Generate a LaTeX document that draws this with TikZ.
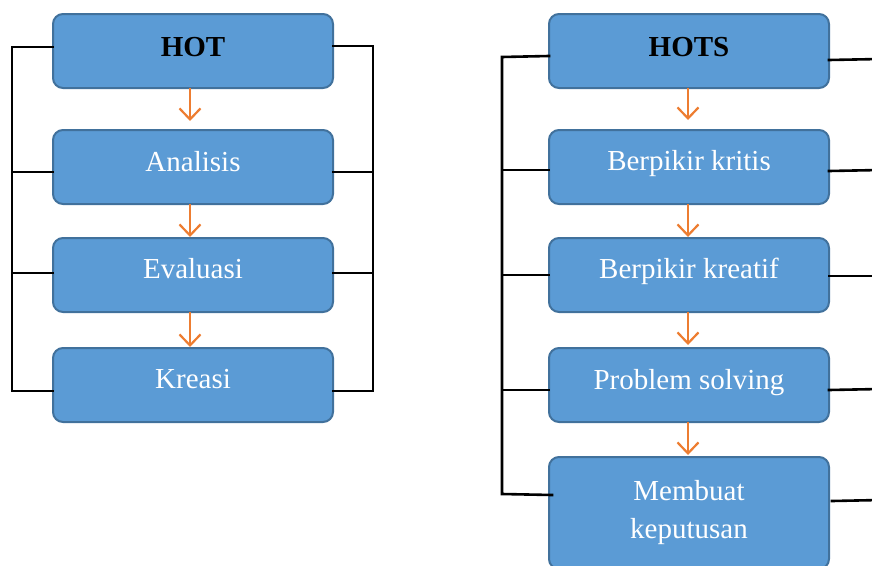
\documentclass[tikz,border=0pt]{standalone}
\usepackage{fontspec}
\setmainfont{Liberation Serif}
\usetikzlibrary{arrows.meta}
\definecolor{boxfill}{HTML}{5B9BD5}
\definecolor{boxline}{HTML}{41719C}
\definecolor{arr}{HTML}{ED7D31}
\tikzset{
  blockbox/.style={draw=boxline, fill=boxfill, line width=2pt, rounded corners=10pt,
    minimum width=280pt, inner sep=0pt, outer sep=0pt, anchor=north},
  txt/.style={anchor=base, inner sep=0pt, text=white, font=\fontsize{29}{38}\selectfont},
  ttl/.style={anchor=base, inner sep=0pt, text=black, font=\fontsize{29}{38}\selectfont\bfseries},
  flow/.style={draw=arr, line width=2.2pt, -{Straight Barb[length=11pt,width=21pt,line width=2.2pt]}},
  link/.style={draw=black, line width=2.6pt, line cap=rect}
}
\begin{document}
\begin{tikzpicture}[x=1pt,y=-1pt]
\useasboundingbox (0,0) rectangle (872,565);
\clip (0,0) rectangle (872,565);
% left column boxes
\node[blockbox, minimum height=74pt] (hot) at (193,14) {};
\node[blockbox, minimum height=74pt] (ana) at (193,130) {};
\node[blockbox, minimum height=74pt] (eva) at (193,238) {};
\node[blockbox, minimum height=74pt] (kre) at (193,348) {};
% right column boxes
\node[blockbox, minimum height=74pt] (hots) at (689,14) {};
\node[blockbox, minimum height=74pt] (kri) at (689,130) {};
\node[blockbox, minimum height=74pt] (kreat) at (689,238) {};
\node[blockbox, minimum height=74pt] (ps) at (689,348) {};
\node[blockbox, minimum height=112pt] (mk) at (689,457) {};
% texts
\node[ttl] (thot) at (193,56) {HOT};
\node[txt] (tana) at (193,171) {Analisis};
\node[txt] (teva) at (193,278) {Evaluasi};
\node[txt] (tkre) at (193,388) {Kreasi};
\node[ttl] (thots) at (689,56) {HOTS};
\node[txt] (tkri) at (689,170) {Berpikir kritis};
\node[txt] (tkreat) at (689,278) {Berpikir kreatif};
\node[txt] (tps) at (689,389) {Problem solving};
\node[txt] (tmk1) at (689,500) {Membuat};
\node[txt] (tmk2) at (689,538) {keputusan};
% flow arrows
\draw[flow, shorten >=9pt] ([xshift=-3pt]hot.south) -- ([xshift=-3pt]ana.north);
\draw[flow, shorten >=1pt] ([xshift=-3pt]ana.south) -- ([xshift=-3pt]eva.north);
\draw[flow, shorten >=1pt] ([xshift=-3pt]eva.south) -- ([xshift=-3pt]kre.north);
\draw[flow, shorten >=10pt] ([xshift=-1pt]hots.south) -- ([xshift=-1pt]kri.north);
\draw[flow, shorten >=1pt] ([xshift=-1pt]kri.south) -- ([xshift=-1pt]kreat.north);
\draw[flow, shorten >=3pt] ([xshift=-1pt]kreat.south) -- ([xshift=-1pt]ps.north);
\draw[flow, shorten >=2pt] ([xshift=-1pt]ps.south) -- ([xshift=-1pt]mk.north);
% left column brackets
\coordinate (la) at (12,47);
\coordinate (lb) at (12,172);
\coordinate (lc) at (12,273);
\coordinate (ld) at (12,391);
\draw[link] ([yshift=4pt]hot.west) -- (la) -- (ld) -- ([yshift=-6pt]kre.west);
\draw[link] (lb) -- ([yshift=-5pt]ana.west);
\draw[link] (lc) -- ([yshift=2pt]eva.west);
\coordinate (ra) at (373,46);
\coordinate (rb) at (373,172);
\coordinate (rc) at (373,273);
\coordinate (rd) at (373,391);
\draw[link] ([yshift=5pt]hot.east) -- (ra) -- (rd) -- ([yshift=-6pt]kre.east);
\draw[link] (rb) -- ([yshift=-5pt]ana.east);
\draw[link] (rc) -- ([yshift=2pt]eva.east);
% right column brackets
\coordinate (sa) at (502,57);
\coordinate (sb) at (502,170);
\coordinate (sc) at (502,275);
\coordinate (sd) at (502,390);
\coordinate (se) at (502,494);
\draw[link] ([yshift=-5pt]hots.west) -- (sa) -- (se) -- ([yshift=18pt,xshift=3pt]mk.west);
\draw[link] (sb) -- ([yshift=-3pt]kri.west);
\draw[link] (sc) -- (kreat.west);
\draw[link] (sd) -- ([yshift=-5pt]ps.west);
\coordinate (ta) at (880,59);
\coordinate (tb) at (880,170);
\coordinate (tc) at (880,276);
\coordinate (td) at (880,389);
\coordinate (te) at (880,500);
\draw[link] ([yshift=-9pt]hots.east) -- (ta);
\draw[link] ([yshift=-4pt]kri.east) -- (tb);
\draw[link] ([yshift=-1pt]kreat.east) -- (tc);
\draw[link] ([yshift=-5pt]ps.east) -- (td);
\draw[link] ([yshift=12pt,xshift=3pt]mk.east) -- (te);
\end{tikzpicture}
\end{document}
